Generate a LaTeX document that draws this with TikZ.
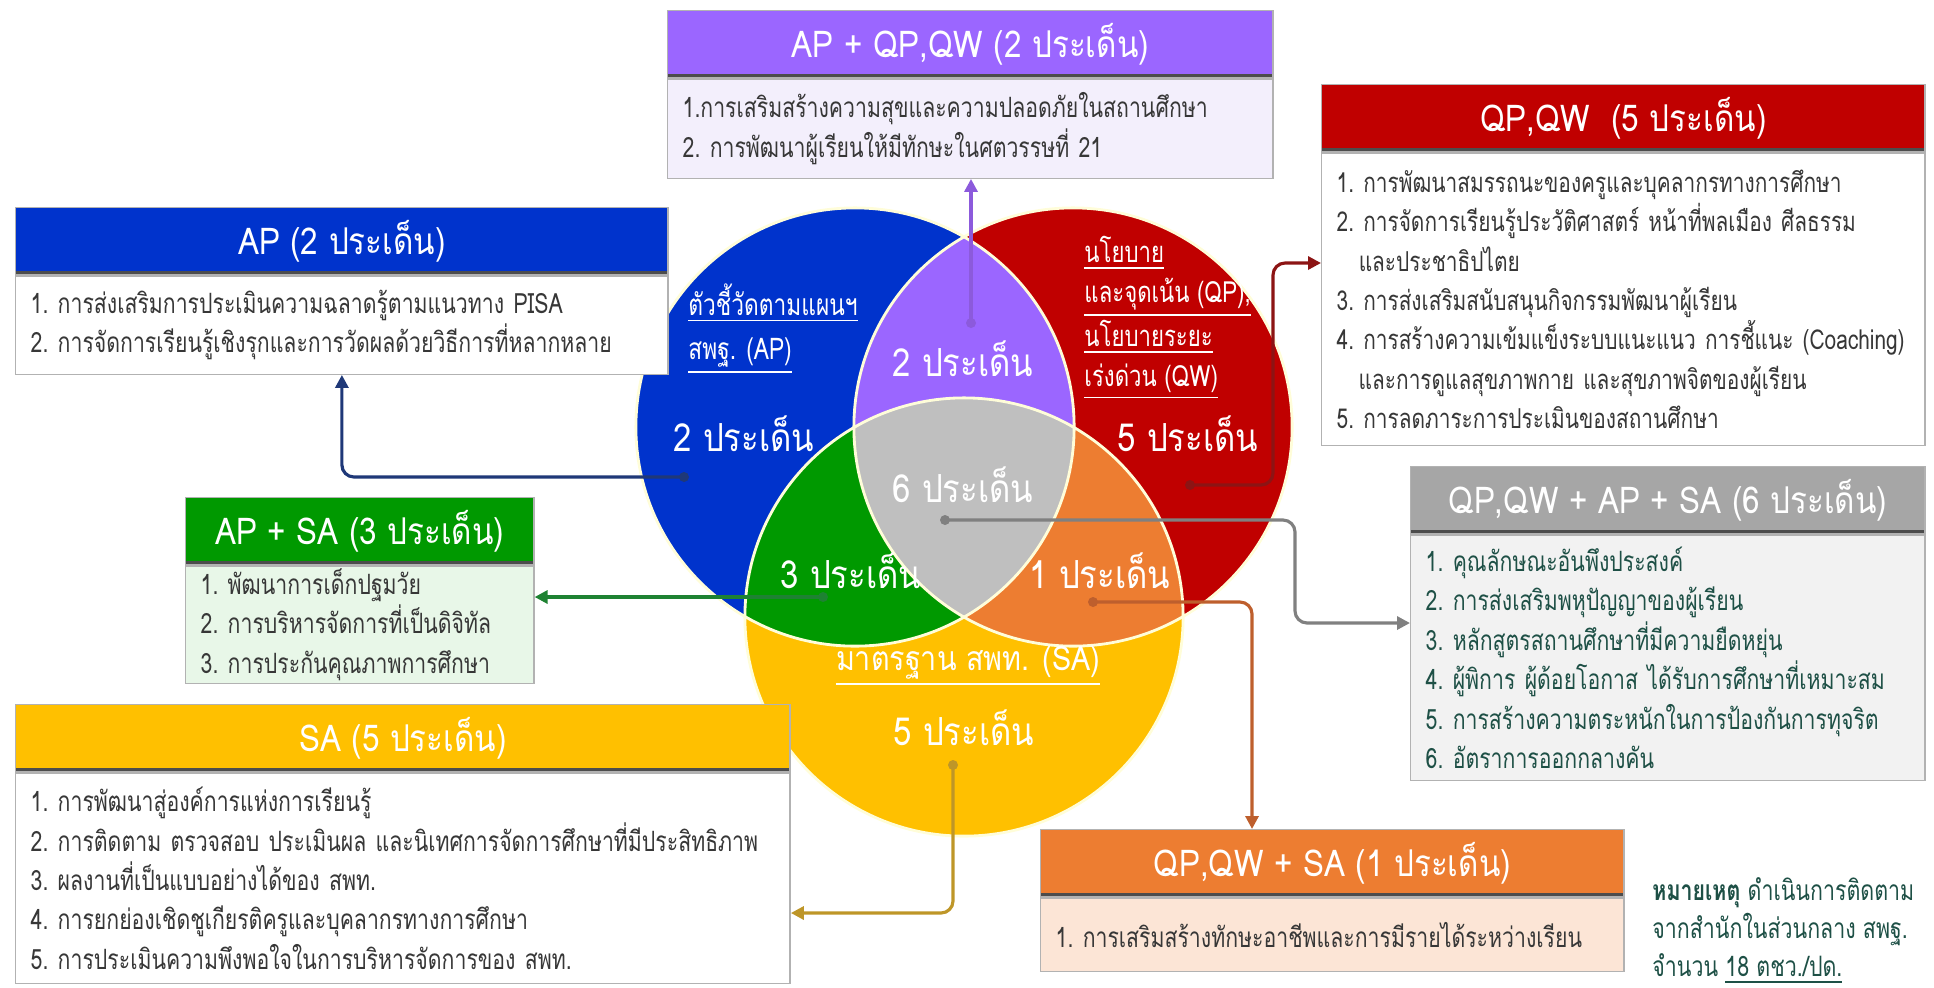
\documentclass[tikz,border=0pt]{standalone}
\usepackage{fontspec}
\setmainfont[Script=Thai,FakeStretch=0.85]{Loma}
\newfontfamily\bodyfont[Script=Thai,FakeStretch=0.76]{Loma}
\usetikzlibrary{positioning,arrows.meta}

\definecolor{apblue}{RGB}{0,51,204}
\definecolor{qpred}{RGB}{192,0,0}
\definecolor{sayellow}{RGB}{255,192,0}
\definecolor{aqpurple}{RGB}{155,102,255}
\definecolor{asgreen}{RGB}{0,153,0}
\definecolor{qsorange}{RGB}{237,125,49}
\definecolor{allgray}{RGB}{191,191,191}
\definecolor{hdrgray}{RGB}{166,166,166}
\definecolor{aqfill}{RGB}{243,239,252}
\definecolor{asfill}{RGB}{232,247,232}
\definecolor{allfill}{RGB}{242,242,242}
\definecolor{qsfill}{RGB}{252,229,214}
\definecolor{bodytext}{RGB}{55,55,55}
\definecolor{tealtext}{RGB}{30,80,70}
\definecolor{lkblue}{RGB}{31,56,120}
\definecolor{lkred}{RGB}{140,20,20}
\definecolor{lkgray}{RGB}{128,128,128}
\definecolor{lkorange}{RGB}{190,95,45}
\definecolor{lkgreen}{RGB}{30,130,50}
\definecolor{lkyellow}{RGB}{190,150,40}
\definecolor{lkpurple}{RGB}{140,90,220}

\begin{document}
\begin{tikzpicture}[x=0.01cm, y=-0.01cm,
    hdr/.style={draw=black!30, fill=#1, text=white, minimum height=0.67cm,
      inner sep=0pt, anchor=north west, font=\fontsize{10.5}{12}\selectfont,
      path picture={\draw[black!70, line width=2pt]
        (path picture bounding box.south west) -- (path picture bounding box.south east);}},
    bodybox/.style={draw=black!30, fill=#1, text=bodytext, inner xsep=0.15cm,
      inner ysep=0pt, align=left, font=\bodyfont\fontsize{7.95}{11.2}\selectfont},
    dotmark/.style={circle, fill=#1, inner sep=0pt, minimum size=0.1cm},
    link/.style={draw=#1, line width=0.9pt, rounded corners=0.12cm,
      -{Triangle[length=0.13cm, width=0.13cm]}},
    big/.style={text=white, font=\fontsize{11}{13}\selectfont},
    tag/.style={text=white, align=left, anchor=west, font=\bodyfont\fontsize{8.5}{12}\selectfont}]
  \useasboundingbox (0,0) rectangle (1934,987);

  % Venn circles
  \coordinate (cAP) at (855,427);
  \coordinate (cQP) at (1073,427);
  \coordinate (cSA) at (964,617);
  \def\vr{2.19cm}
  \fill[sayellow] (cSA) circle[radius=\vr];
  \fill[apblue] (cAP) circle[radius=\vr];
  \fill[qpred] (cQP) circle[radius=\vr];
  \begin{scope}
    \clip (cAP) circle[radius=\vr];
    \fill[aqpurple] (cQP) circle[radius=\vr];
    \fill[asgreen] (cSA) circle[radius=\vr];
  \end{scope}
  \begin{scope}
    \clip (cQP) circle[radius=\vr];
    \fill[qsorange] (cSA) circle[radius=\vr];
    \clip (cAP) circle[radius=\vr];
    \fill[allgray] (cSA) circle[radius=\vr];
  \end{scope}
  \foreach \c in {cAP, cQP, cSA} {
    \draw[white!85!yellow, line width=0.8pt] (\c) circle[radius=\vr];
  }

  % texts inside the circles
  \node[tag, font=\bodyfont\fontsize{8.5}{12.5}\selectfont] (tAP) at (676,329)
    {\underline{ตัวชี้วัดตามแผนฯ}\\\underline{สพฐ. (AP)}};
  \node[big] (nAP) at (744,434) {2 ประเด็น};
  \node[tag, font=\bodyfont\fontsize{8.3}{11.2}\selectfont] (tQP) at (1072,318)
    {\underline{นโยบาย}\\\underline{และจุดเน้น (QP),}\\\underline{นโยบายระยะ}\\\underline{เร่งด่วน (QW)}};
  \node[big] (nQP) at (1188,434) {5 ประเด็น};
  \node[tag, anchor=center, font=\fontsize{9.6}{12}\selectfont] (tSA) at (968,666) {\underline{มาตรฐาน สพท. (SA)}};
  \node[big] (nSA) at (964,728) {5 ประเด็น};
  \node[big] (nAQ) at (963,359) {2 ประเด็น};
  \node[big] (nAll) at (963,485) {6 ประเด็น};
  \node[big] (nAS) at (851,571) {3 ประเด็น};
  \node[big] (nQS) at (1100,571) {1 ประเด็น};

  % dots
  \node[dotmark=lkblue] (dAP) at (684,477) {};
  \node[dotmark=lkred] (dQP) at (1190,485) {};
  \node[dotmark=lkyellow] (dSA) at (953,765) {};
  \node[dotmark=lkpurple] (dAQ) at (971,323) {};
  \node[dotmark=lkgray] (dAll) at (945,520) {};
  \node[dotmark=lkgreen] (dAS) at (823,597) {};
  \node[dotmark=lkorange] (dQS) at (1093,602) {};

  % boxes
  \node[hdr=aqpurple, minimum width=6.05cm] (AQhdr) at (667,10) {AP + QP,QW (2 ประเด็น)};
  \node[bodybox=aqfill, below=0pt of AQhdr,
    minimum width=6.05cm, minimum height=0.99cm, text width=5.75cm] (AQbody)
    {1.การเสริมสร้างความสุขและความปลอดภัยในสถานศึกษา\\
     2.~การพัฒนาผู้เรียนให้มีทักษะในศตวรรษที่~21};

  \node[hdr=qpred, minimum width=6.03cm] (QPhdr) at (1321,84) {QP,QW~ (5 ประเด็น)};
  \node[bodybox=white, below=0pt of QPhdr, font=\bodyfont\fontsize{7.8}{11.2}\selectfont,
    minimum width=6.03cm, minimum height=2.92cm, text width=5.73cm] (QPbody)
    {1.~การพัฒนาสมรรถนะของครูและบุคลากรทางการศึกษา\\
     2.~การจัดการเรียนรู้ประวัติศาสตร์~หน้าที่พลเมือง~ศีลธรรม\\
     \hspace*{0.22cm}และประชาธิปไตย\\
     3.~การส่งเสริมสนับสนุนกิจกรรมพัฒนาผู้เรียน\\
     4.~การสร้างความเข้มแข็งระบบแนะแนว~การชี้แนะ~\mbox{(Coaching)}\\
     \hspace*{0.22cm}และการดูแลสุขภาพกาย~และสุขภาพจิตของผู้เรียน\\
     5.~การลดภาระการประเมินของสถานศึกษา};

  \node[hdr=apblue, minimum width=6.52cm] (APhdr) at (15,207) {AP (2 ประเด็น)};
  \node[bodybox=white, below=0pt of APhdr,
    minimum width=6.52cm, minimum height=0.98cm, text width=6.22cm] (APbody)
    {1.~การส่งเสริมการประเมินความฉลาดรู้ตามแนวทาง~PISA\\
     2.~การจัดการเรียนรู้เชิงรุกและการวัดผลด้วยวิธีการที่หลากหลาย};

  \node[hdr=asgreen, minimum width=3.48cm] (AShdr) at (185,497) {AP + SA (3 ประเด็น)};
  \node[bodybox=asfill, below=0pt of AShdr,
    minimum width=3.48cm, minimum height=1.17cm, text width=3.18cm] (ASbody)
    {1.~พัฒนาการเด็กปฐมวัย\\
     2.~การบริหารจัดการที่เป็นดิจิทัล\\
     3.~การประกันคุณภาพการศึกษา};

  \node[hdr=hdrgray, minimum width=5.14cm] (Allhdr) at (1410,466) {QP,QW + AP + SA (6 ประเด็น)};
  \node[bodybox=allfill, text=tealtext, below=0pt of Allhdr,
    minimum width=5.14cm, minimum height=2.45cm, text width=4.84cm] (Allbody)
    {1.~คุณลักษณะอันพึงประสงค์\\
     2.~การส่งเสริมพหุปัญญาของผู้เรียน\\
     3.~หลักสูตรสถานศึกษาที่มีความยืดหยุ่น\\
     4.~ผู้พิการ~ผู้ด้อยโอกาส~ได้รับการศึกษาที่เหมาะสม\\
     5.~การสร้างความตระหนักในการป้องกันการทุจริต\\
     6.~อัตราการออกกลางคัน};

  \node[hdr=sayellow, minimum width=7.74cm] (SAhdr) at (15,704) {SA (5 ประเด็น)};
  \node[bodybox=white, below=0pt of SAhdr,
    minimum width=7.74cm, minimum height=2.10cm, text width=7.44cm] (SAbody)
    {1.~การพัฒนาสู่องค์การแห่งการเรียนรู้\\
     2.~การติดตาม~ตรวจสอบ~ประเมินผล~และนิเทศการจัดการศึกษาที่มีประสิทธิภาพ\\
     3.~ผลงานที่เป็นแบบอย่างได้ของ~สพท.\\
     4.~การยกย่องเชิดชูเกียรติครูและบุคลากรทางการศึกษา\\
     5.~การประเมินความพึงพอใจในการบริหารจัดการของ~สพท.};

  \node[hdr=qsorange, minimum width=5.83cm] (QShdr) at (1040,829) {QP,QW + SA (1 ประเด็น)};
  \node[bodybox=qsfill, below=0pt of QShdr,
    minimum width=5.83cm, minimum height=0.73cm, text width=5.53cm] (QSbody)
    {1.~การเสริมสร้างทักษะอาชีพและการมีรายได้ระหว่างเรียน};

  % note
  \node[anchor=west, align=left, text=tealtext, font=\bodyfont\fontsize{8}{10.8}\selectfont] (note) at (1640,931)
    {\textbf{หมายเหตุ}~ดำเนินการติดตาม\\จากสำนักในส่วนกลาง~สพฐ.\\จำนวน~\underline{18 ตชว./ปด.}};

  % connectors
  \coordinate (kQP) at (1273,263);
  \coordinate (kAll) at (1295,623);
  \coordinate (kQS) at (1252,829);
  \coordinate (kSA) at (953,913);
  \draw[link=lkblue] (dAP.center) -| (APbody.south);
  \draw[link=lkred] (dQP.center) -| (kQP) -- (kQP -| QPbody.west);
  \draw[link=lkgray] (dAll.center) -| (kAll) -- (kAll -| Allbody.west);
  \draw[link=lkorange] (dQS.center) -| (kQS);
  \draw[link=lkgreen] (dAS.center) -- (dAS -| ASbody.east);
  \draw[link=lkyellow] (dSA.center) |- (kSA -| SAbody.east);
  \draw[link=lkpurple] (dAQ.center) -- (dAQ |- AQbody.south);
\end{tikzpicture}
\end{document}
